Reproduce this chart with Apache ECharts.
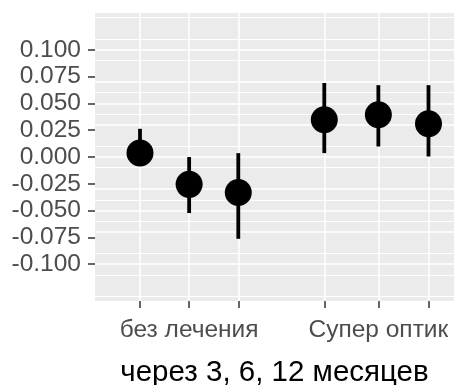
<!DOCTYPE html>
<html>
<head>
<meta charset="utf-8">
<script src="https://cdn.jsdelivr.net/npm/echarts@6/dist/echarts.min.js"></script>
<style>
html,body{margin:0;padding:0;background:#fff;}
#chart{width:454px;height:385px;}
</style>
</head>
<body>
<div id="chart"></div>
<script>
// ---- data ----
const groups = ['без лечения', 'Супер оптик'];
const groupCenters = [2, 5.85];
const xValues = [1, 2, 3, 4.75, 5.85, 6.87];
const estimate = [0.0037, -0.0255, -0.0331, 0.0347, 0.0394, 0.031];
const lower = [-0.006, -0.0523, -0.0763, 0.0036, 0.0098, 0.0005];
const upper = [0.0263, 0.0, 0.0036, 0.069, 0.067, 0.067];
const yTicks = [-0.1, -0.075, -0.05, -0.025, 0, 0.025, 0.05, 0.075, 0.1];
const yMinorGrid = [-0.125, -0.1125, -0.0875, -0.0625, -0.0375, -0.0125, 0.0125, 0.0375, 0.0625, 0.0875, 0.1125, 0.125];
const xTitle = 'через 3, 6, 12 месяцев';

const FONT = 'Liberation Sans';
const chart = echarts.init(document.getElementById('chart'), null, {renderer: 'canvas'});

const gridLines = [];
yMinorGrid.forEach(v => gridLines.push({yAxis: v, lineStyle: {color: '#ffffff', width: 1, type: 'solid'}}));
yTicks.forEach(v => gridLines.push({yAxis: v, lineStyle: {color: '#ffffff', width: 1.5, type: 'solid'}}));
xValues.forEach(v => gridLines.push({xAxis: v, lineStyle: {color: '#ffffff', width: 1.5, type: 'solid'}}));

const option = {
  animation: false,
  backgroundColor: '#ffffff',
  grid: {left: 95, right: 0, top: 13, bottom: 84, show: true, backgroundColor: '#EBEBEB', borderWidth: 0,
    containLabel: false, outerBoundsMode: 'none'},
  xAxis: {
    type: 'value', min: 0.0845, max: 7.389,
    axisLine: {show: false, onZero: false},
    splitLine: {show: false},
    axisTick: {show: true, customValues: xValues, length: 7, lineStyle: {color: '#333333', width: 1.5}},
    axisLabel: {
      customValues: groupCenters, margin: 17, color: '#4D4D4D', fontSize: 24.5, fontFamily: FONT,
      formatter: v => { const i = groupCenters.findIndex(c => Math.abs(c - v) < 1e-6); return i >= 0 ? groups[i] : ''; }
    },
    name: xTitle, nameLocation: 'middle', nameGap: 57,
    nameTextStyle: {color: '#000000', fontSize: 29.5, fontFamily: FONT}
  },
  yAxis: {
    type: 'value', min: -0.1343, max: 0.1343,
    axisLine: {show: false, onZero: false},
    splitLine: {show: false},
    axisTick: {show: true, customValues: yTicks, length: 7, lineStyle: {color: '#333333', width: 1.5}},
    axisLabel: {customValues: yTicks, margin: 14, color: '#4D4D4D', fontSize: 24.5, fontFamily: FONT,
      formatter: v => (Math.abs(v) < 1e-9 ? 0 : v).toFixed(3)}
  },
  series: [
    {
      type: 'scatter', data: [], z: 0, silent: true,
      markLine: {silent: true, z: 0, symbol: 'none', label: {show: false}, animation: false, data: gridLines}
    },
    {
      type: 'custom', z: 10, silent: true,
      data: xValues.map((x, i) => [x, lower[i], upper[i]]),
      renderItem: (params, api) => {
        const p1 = api.coord([api.value(0), api.value(1)]);
        const p2 = api.coord([api.value(0), api.value(2)]);
        return {type: 'line', shape: {x1: p1[0], y1: p1[1], x2: p2[0], y2: p2[1]},
          style: {stroke: '#000000', lineWidth: 3.8}};
      }
    },
    {
      type: 'scatter', z: 11, silent: true, symbol: 'circle', symbolSize: 27,
      itemStyle: {color: '#000000', opacity: 1},
      data: xValues.map((x, i) => [x, estimate[i]])
    }
  ]
};
chart.setOption(option);
</script>
</body>
</html>
